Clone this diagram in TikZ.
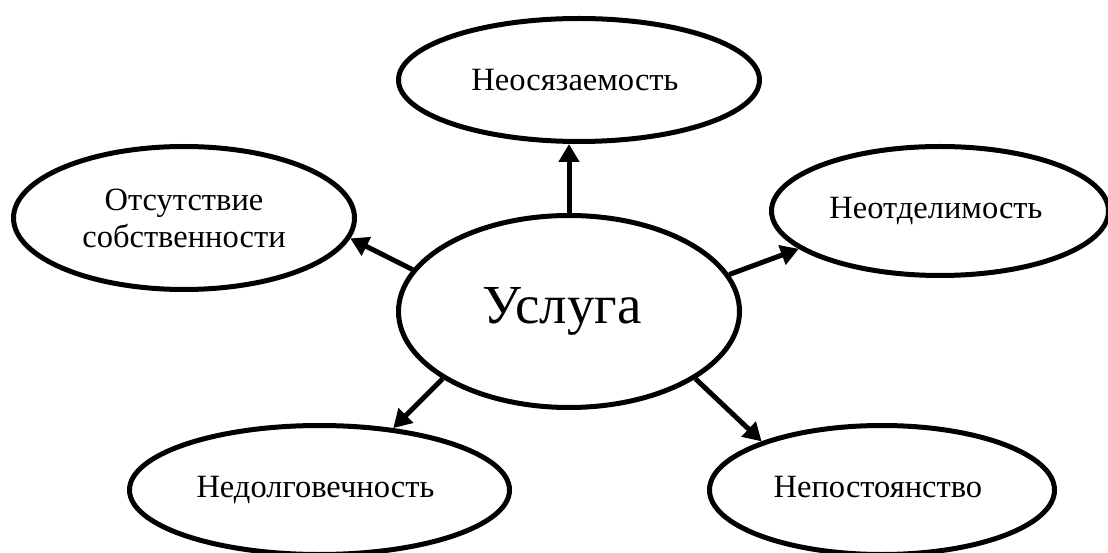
\documentclass[tikz,border=0pt]{standalone}
\usepackage{fontspec}
\setmainfont{Liberation Serif}
\usetikzlibrary{shapes.geometric, arrows.meta, positioning}

\begin{document}
\begin{tikzpicture}[
    x=1pt, y=1pt,
    on grid,
    oval/.style={
        ellipse,
        draw,
        line width=5pt,
        inner sep=0pt,
        align=center,
        minimum width=340pt,
        minimum height=129pt,
        font=\fontsize{32.5}{37}\selectfont
    },
    bigoval/.style={
        oval,
        minimum width=341pt,
        minimum height=192pt,
        font=\fontsize{55}{60}\selectfont
    },
    arrow/.style={
        line width=5pt,
        -{Triangle[length=18pt, width=20pt]}
    }
]

\useasboundingbox (0,0) rectangle (1108,552);

% ------------------------------------------------
% Central node
% ------------------------------------------------

\node[bigoval] (usluga) at (569,240.5) {
    Услуга
};

% ------------------------------------------------
% Properties of a service
% ------------------------------------------------

\node[oval, above=231.5pt of usluga, xshift=10pt, minimum width=361pt, minimum height=123pt] (intangible) {
    Неосязаемость
};

\node[oval, above left=93.5pt and 385pt of usluga, minimum width=341pt, minimum height=143pt] (ownership) {
    Отсутствие\\
    собственности
};

\node[oval, above right=100.5pt and 371pt of usluga, minimum width=337pt] (inseparable) {
    Неотделимость
};

\node[oval, below left=178.5pt and 249.5pt of usluga, minimum width=380pt] (perishable) {
    Недолговечность
};

\node[oval, below right=178.5pt and 313pt of usluga, minimum width=345pt] (variable) {
    Непостоянство\vphantom{д}
};

% ------------------------------------------------
% Arrows
% ------------------------------------------------

\draw[arrow] (usluga.north) -- (usluga.north |- intangible.south);
\draw[arrow] (usluga.165.6) -- (ownership.-7.6);
\draw[arrow] (usluga.13.2) -- (inseparable.195);
\draw[arrow] (usluga.208.2) -- (perishable.40.2);
\draw[arrow] (usluga.-28.2) -- (variable.158.5);

\end{tikzpicture}
\end{document}
